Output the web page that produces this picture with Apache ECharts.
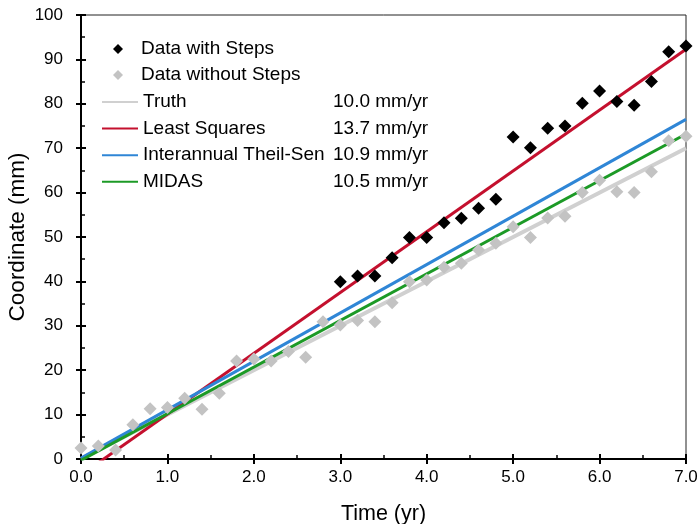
<!DOCTYPE html>
<html>
<head>
<meta charset="utf-8">
<script src="https://cdn.jsdelivr.net/npm/echarts@6/dist/echarts.min.js"></script>
<style>html,body{margin:0;padding:0;background:#fff;}#c{width:698px;height:524px;}</style>
</head>
<body>
<div id="c"></div>
<script>
// Data with steps (x = time in yr)
const stepTimes = [3.0,3.2,3.4,3.6,3.8,4.0,4.2,4.4,4.6,4.8,5.0,5.2,5.4,5.6,5.8,6.0,6.2,6.4,6.6,6.8,7.0];
const stepValues = [39.9,41.2,41.2,45.3,49.9,49.9,53.2,54.2,56.5,58.5,72.5,70.1,74.5,75.0,80.1,82.9,80.5,79.7,85.0,91.7,93.0];
// Data without steps
const noStepTimes = [0.0,0.2,0.4,0.6,0.8,1.0,1.2,1.4,1.6,1.8,2.0,2.2,2.4,2.6,2.8,3.0,3.2,3.4,3.6,3.8,4.0,4.2,4.4,4.6,4.8,5.0,5.2,5.4,5.6,5.8,6.0,6.2,6.4,6.6,6.8,7.0];
const noStepValues = [2.5,2.9,2.0,7.7,11.3,11.6,13.7,11.2,14.8,22.1,22.5,22.1,24.2,22.9,30.9,30.2,31.2,30.9,35.2,39.9,40.3,43.2,44.1,47.1,48.6,52.3,49.9,54.3,54.7,60.0,62.8,60.2,60.0,64.7,71.7,72.7];
// Trend lines
const lineNames = ['Truth','Least Squares','Interannual Theil-Sen','MIDAS'];
const lineRates = ['10.0 mm/yr','13.7 mm/yr','10.9 mm/yr','10.5 mm/yr'];
const lineSlopes = [10.0, 13.7, 10.9, 10.5];
const lineIntercepts = [0.0, -3.6, 0.2, -0.3];
const lineRange = [0, 7];

const lineColors = ['#d0d0d0','#c4102e','#2f86d6','#1c9a26'];
const lineWidths = [4, 3, 3, 3];

const chart = echarts.init(document.getElementById('c'), null, {renderer:'canvas'});
const font = 'Liberation Sans, Arial, sans-serif';

const lineSeries = lineNames.map((n, i) => ({
  name: n, type: 'line', symbol: 'none', clip: true, z: 2 + i,
  lineStyle: {color: lineColors[i], width: lineWidths[i]},
  itemStyle: {color: lineColors[i]},
  data: lineRange.map(x => [x, lineIntercepts[i] + lineSlopes[i] * x])
}));

const scatterSeries = [
  {name: 'Data without Steps', type: 'scatter', symbol: 'diamond', symbolSize: 13, z: 10,
   itemStyle: {color: '#c3c3c3', opacity: 1},
   data: noStepTimes.map((t, i) => [t, noStepValues[i]])},
  {name: 'Data with Steps', type: 'scatter', symbol: 'diamond', symbolSize: 13, z: 11,
   itemStyle: {color: '#000000', opacity: 1},
   data: stepTimes.map((t, i) => [t, stepValues[i]])}
];

const rateOf = {};
lineNames.forEach((n, i) => rateOf[n] = lineRates[i]);

const baseAxisLine = {show: true, lineStyle: {color: '#000', width: 2}};
const LF = 19;

const option = {
  backgroundColor: '#fff',
  animation: false,
  grid: {left: 81, right: 12, top: 15, bottom: 65, containLabel: false, outerBoundsMode: 'none',
         show: true, borderColor: '#222', borderWidth: 1, backgroundColor: 'transparent'},
  legend: [
    {
      data: ['Data with Steps', 'Data without Steps'],
      orient: 'vertical', left: 113, top: 39, itemGap: 6, padding: 0,
      itemWidth: 10, itemHeight: 10,
      textStyle: {fontFamily: font, fontSize: LF, color: '#000', lineHeight: 20,
        rich: {n: {fontFamily: font, fontSize: LF, color: '#000', padding: [0,0,0,13]}}},
      formatter: n => '{n|' + n + '}'
    },
    {
      data: lineNames,
      orient: 'vertical', left: 101, top: 92, itemGap: 6.6, padding: 0,
      itemWidth: 36, itemHeight: 10,
      itemStyle: {opacity: 0},
      textStyle: {fontFamily: font, fontSize: LF, color: '#000', lineHeight: 20,
        rich: {n: {fontFamily: font, fontSize: LF, color: '#000', width: 190},
               r: {fontFamily: font, fontSize: LF, color: '#000'}}},
      formatter: n => '{n|' + n + '}{r|' + rateOf[n] + '}'
    }
  ],
  xAxis: [
    {type: 'value', min: 0, max: 7, interval: 1, position: 'bottom',
     name: 'Time (yr)', nameLocation: 'middle', nameGap: 44, nameMoveOverlap: false,
     nameTextStyle: {fontFamily: font, fontSize: 21.5, color: '#000'},
     axisLine: baseAxisLine,
     axisTick: {show: true, inside: false, length: 5, lineStyle: {color: '#000', width: 2}},
     minorTick: {show: false},
     axisLabel: {fontFamily: font, fontSize: 17, color: '#000', margin: 10, formatter: v => v.toFixed(1)},
     splitLine: {show: false}},
    {type: 'value', min: 0, max: 7, interval: 1, position: 'bottom', gridIndex: 0,
     axisLine: {show: false},
     axisTick: {show: true, inside: true, length: 5, lineStyle: {color: '#000', width: 2}},
     minorTick: {show: true, splitNumber: 2, length: 4, lineStyle: {color: '#000', width: 1.5}},
     axisLabel: {show: false}, splitLine: {show: false}}
  ],
  yAxis: [
    {type: 'value', min: 0, max: 100, interval: 10, position: 'left',
     name: 'Coordinate (mm)', nameLocation: 'middle', nameGap: 52, nameMoveOverlap: false,
     nameTextStyle: {fontFamily: font, fontSize: 22.5, color: '#000'},
     axisLine: baseAxisLine,
     axisTick: {show: true, inside: false, length: 5, lineStyle: {color: '#000', width: 2}},
     axisLabel: {fontFamily: font, fontSize: 17, color: '#000', margin: 18},
     splitLine: {show: false}},
    {type: 'value', min: 0, max: 100, interval: 10, position: 'left',
     axisLine: {show: false},
     axisTick: {show: true, inside: true, length: 5, lineStyle: {color: '#000', width: 2}},
     minorTick: {show: true, splitNumber: 2, length: 4, lineStyle: {color: '#000', width: 1.5}},
     axisLabel: {show: false}, splitLine: {show: false}}
  ],
  series: lineSeries.concat(scatterSeries)
};
chart.setOption(option);
</script>
</body>
</html>
